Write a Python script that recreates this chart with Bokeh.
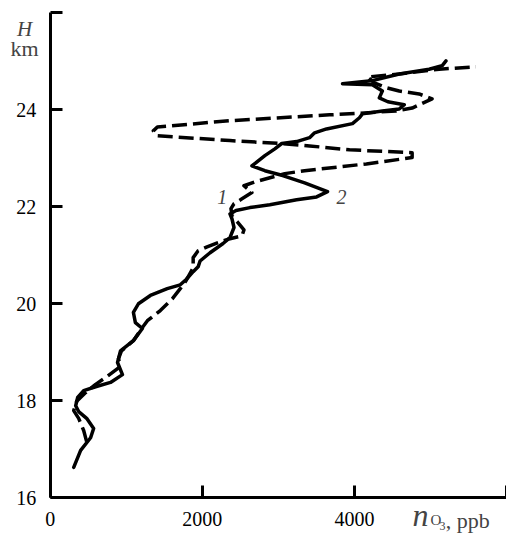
from bokeh.plotting import figure
from bokeh.models import Range1d, FixedTicker, Label
from bokeh.embed import file_html
from bokeh.resources import INLINE

# ---- data (ozone profiles) ----
solid_x = [308, 399, 530, 570, 478, 373, 334, 360, 439, 596, 792, 949, 884, 923, 1093, 1211, 1119, 1093,
           1159, 1316, 1538, 1709, 1787, 1879, 1944, 1970, 2101, 2272, 2363, 2416, 2389, 2363, 2442, 2625,
           2887, 3240, 3502, 3646, 3345, 3057, 2822, 2651, 2822, 2953, 3044, 3240, 3410, 3476, 3633, 3974,
           4066, 4105, 4367, 4589, 4655, 4439, 4327, 4367, 4236, 3843, 4223, 4589, 4982, 5152, 5204]
solid_h = [16.63, 16.98, 17.24, 17.43, 17.64, 17.78, 17.90, 18.07, 18.21, 18.29, 18.38, 18.54, 18.79, 19.03,
           19.24, 19.49, 19.61, 19.82, 20.00, 20.17, 20.31, 20.39, 20.50, 20.66, 20.76, 20.88, 21.05, 21.24,
           21.36, 21.57, 21.75, 21.85, 21.92, 21.98, 22.04, 22.14, 22.20, 22.31, 22.49, 22.64, 22.74, 22.84,
           23.05, 23.19, 23.30, 23.34, 23.42, 23.52, 23.60, 23.71, 23.83, 23.91, 23.97, 24.01, 24.10, 24.16,
           24.24, 24.38, 24.51, 24.53, 24.59, 24.73, 24.83, 24.90, 25.00]

dashed_x = [478, 439, 373, 308, 347, 465, 596, 727, 923, 897, 936, 1093, 1211, 1277, 1447, 1604, 1709, 1787,
            1879, 1879, 1944, 2062, 2206, 2363, 2521, 2547, 2468, 2389, 2376, 2416, 2521, 2651, 2547, 2691,
            3083, 3345, 4157, 4759, 4759, 3935, 3411, 3018, 2363, 1408, 1355, 1408, 2363, 3673, 4131, 4550,
            4759, 5021, 4851, 4589, 4419, 4262, 4170, 4589, 5113, 5597]
dashed_h = [17.16, 17.39, 17.64, 17.80, 17.99, 18.17, 18.34, 18.48, 18.71, 18.87, 19.03, 19.24, 19.51, 19.65,
            19.86, 20.10, 20.31, 20.48, 20.74, 20.95, 21.09, 21.17, 21.26, 21.34, 21.40, 21.52, 21.67, 21.81,
            21.96, 22.06, 22.16, 22.29, 22.43, 22.51, 22.68, 22.74, 22.88, 23.01, 23.11, 23.17, 23.25, 23.30,
            23.36, 23.46, 23.56, 23.64, 23.77, 23.89, 23.93, 23.97, 24.03, 24.22, 24.32, 24.38, 24.45, 24.55,
            24.67, 24.73, 24.83, 24.88]

x_ticks = [0, 2000, 4000, 6000]
y_ticks = [16, 18, 20, 22, 24, 26]
curve_labels = ["1", "2"]

SERIF = "Liberation Serif"

p = figure(width=506, height=534, output_backend="svg", toolbar_location=None,
           x_range=Range1d(-655, 6000), y_range=Range1d(15.248, 26.245),
           min_border_left=0, min_border_right=0, min_border_top=0, min_border_bottom=0)
p.background_fill_color = "white"
p.border_fill_color = "white"
p.outline_line_color = None
p.grid.visible = False

p.line(solid_x, solid_h, line_color="black", line_width=3.5, line_join="round", line_cap="round")
p.line(dashed_x, dashed_h, line_color="black", line_width=3.5, line_dash="15 6", line_join="round")

for ax in (p.xaxis[0], p.yaxis[0]):
    ax.axis_line_width = 3
    ax.axis_line_color = "black"
    ax.major_tick_line_width = 3
    ax.major_tick_line_color = "black"
    ax.major_tick_in = 12
    ax.major_tick_out = 0
    ax.minor_tick_line_color = None
    ax.major_label_text_font = SERIF
    ax.major_label_text_font_size = "20px"
    ax.major_label_text_color = "black"

xa = p.xaxis[0]
xa.ticker = FixedTicker(ticks=x_ticks)
xa.major_label_overrides = {6000: ""}
xa.major_label_standoff = 14
xa.fixed_location = 16
xa.bounds = (0, 6000)

ya = p.yaxis[0]
ya.ticker = FixedTicker(ticks=y_ticks)
ya.major_label_overrides = {26: ""}
ya.major_label_standoff = 14
ya.fixed_location = 0
ya.bounds = (16, 26)

# curve labels
p.add_layout(Label(x=2260, y=22.05, text=curve_labels[0], text_font=SERIF, text_font_style="italic",
                   text_font_size="20px", text_align="center"))
p.add_layout(Label(x=3830, y=22.05, text=curve_labels[1], text_font=SERIF, text_font_style="italic",
                   text_font_size="20px", text_align="center"))

# axis titles
p.add_layout(Label(x=-339, y=25.648, text="H", text_font=SERIF, text_font_style="italic",
                   text_font_size="21px", text_align="center", text_baseline="alphabetic"))
p.add_layout(Label(x=-339, y=25.25, text="km", text_font=SERIF,
                   text_font_size="22px", text_align="center", text_baseline="alphabetic"))

p.add_layout(Label(x=4764, y=15.269, text="n", text_font=SERIF, text_font_style="italic",
                   text_font_size="32px", text_align="left", text_baseline="bottom"))
p.add_layout(Label(x=5000, y=15.372, text="O", text_font=SERIF,
                   text_font_size="15px", text_align="left", text_baseline="bottom"))
p.add_layout(Label(x=5118, y=15.331, text="3", text_font=SERIF,
                   text_font_size="12px", text_align="left", text_baseline="bottom"))
p.add_layout(Label(x=5200, y=15.289, text=", ppb", text_font=SERIF,
                   text_font_size="22px", text_align="left", text_baseline="bottom"))

open("out.html", "w").write(file_html(p, INLINE))
